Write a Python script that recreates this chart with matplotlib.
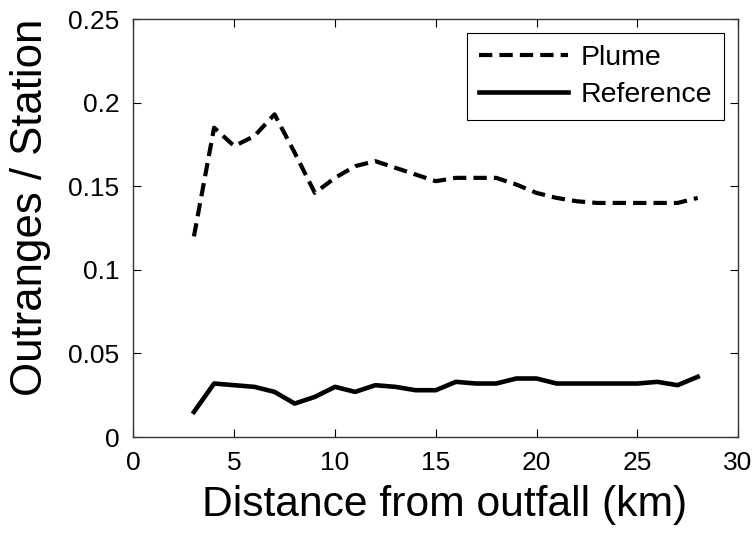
import matplotlib
matplotlib.use("Agg")
import matplotlib.pyplot as plt

distance_km = [3, 4, 5, 6, 7, 8, 9, 10, 11, 12, 13, 14, 15, 16, 17, 18, 19, 20,
               21, 22, 23, 24, 25, 26, 27, 28]
plume = [0.120, 0.185, 0.174, 0.180, 0.193, 0.170, 0.146, 0.155, 0.162, 0.165,
         0.161, 0.157, 0.153, 0.155, 0.155, 0.155, 0.151, 0.146, 0.143, 0.141,
         0.140, 0.140, 0.140, 0.140, 0.140, 0.143]
reference = [0.015, 0.032, 0.031, 0.030, 0.027, 0.020, 0.024, 0.030, 0.027, 0.031,
             0.030, 0.028, 0.028, 0.033, 0.032, 0.032, 0.035, 0.035, 0.032, 0.032,
             0.032, 0.032, 0.032, 0.033, 0.031, 0.036]
x_ticks = [0, 5, 10, 15, 20, 25, 30]
y_ticks = [0, 0.05, 0.1, 0.15, 0.2, 0.25]
y_tick_labels = ["0", "0.05", "0.1", "0.15", "0.2", "0.25"]

plt.rcParams['font.family'] = ['Liberation Sans', 'DejaVu Sans']

fig = plt.figure(figsize=(7.55, 5.34), dpi=100)
ax = fig.add_axes([0.1768, 0.1816, 0.9775 - 0.1768, 0.9644 - 0.1816])

ax.plot(distance_km, plume, color='black', lw=3.0, linestyle=(0, (3.2, 1.7)),
        label='Plume')
ax.plot(distance_km, reference, color='black', lw=3.3, label='Reference')

ax.set_xlim(0, 30)
ax.set_ylim(0, 0.25)
ax.set_xticks(x_ticks)
ax.set_xticklabels([str(t) for t in x_ticks])
ax.set_yticks(y_ticks)
ax.set_yticklabels(y_tick_labels)
ax.tick_params(direction='in', length=6, width=0.8, labelsize=19,
               top=True, right=True, pad=10, colors='black')
for s in ax.spines.values():
    s.set_linewidth(1.0)
    s.set_color('#333333')

ax.set_xlabel('Distance from outfall (km)', fontsize=30.7)
ax.xaxis.set_label_coords(0.515, -0.114)
ax.set_ylabel('Outranges / Station', fontsize=31.5)
ax.yaxis.set_label_coords(-0.136, 0.55)

leg = ax.legend(loc='upper right', fontsize=20.5, frameon=True, fancybox=False,
                edgecolor='black', framealpha=1, handlelength=3.1,
                handletextpad=0.45, labelspacing=0.38, borderpad=0.42,
                borderaxespad=0.5)
leg.get_frame().set_linewidth(0.8)

fig.savefig('out.png', dpi=100)
